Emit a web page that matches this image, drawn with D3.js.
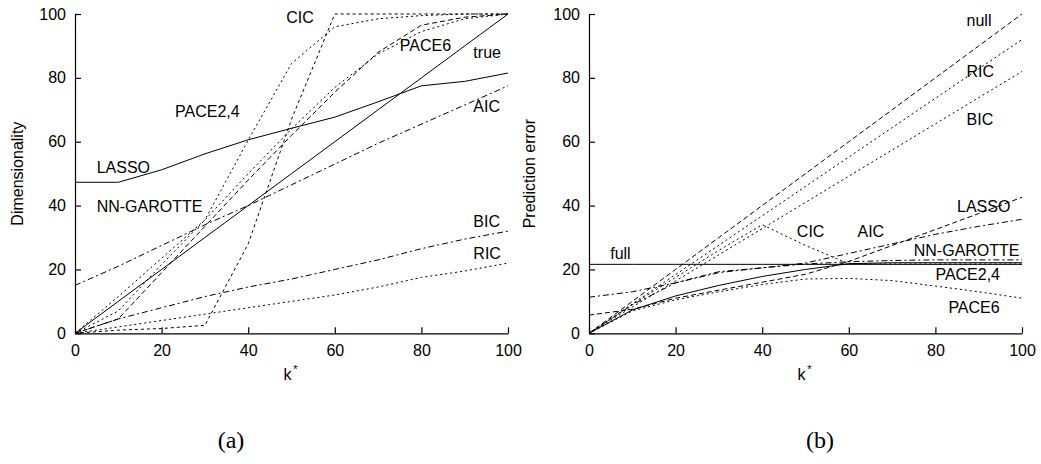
<!DOCTYPE html>
<html>
<head>
<meta charset="utf-8">
<script src="https://cdn.jsdelivr.net/npm/d3@7"></script>
<style>
  body { margin: 0; background: #fff; }
  svg { display: block; }
  .axis text { font-family: "Liberation Sans", Arial, sans-serif; font-size: 16px; fill: #000; }
  .axis path, .axis line { stroke: #000; stroke-width: 1.2; }
  .lbl { font-family: "Liberation Sans", Arial, sans-serif; font-size: 16px; fill: #000; }
  .cap { font-family: "Liberation Serif", "Times New Roman", serif; font-size: 24px; fill: #000; }
</style>
</head>
<body>
<svg id="chart" width="1041" height="464"></svg>
<script>
const kStar = [0, 10, 20, 30, 40, 50, 60, 70, 80, 90, 100];
const yTicks = [0, 20, 40, 60, 80, 100];
const xTicks = [0, 20, 40, 60, 80, 100];

// (a) dimensionality
const trueA = [0, 10, 20, 30, 40, 50, 60, 70, 80, 90, 100];
const lassoA = [47.3, 47.3, 51.2, 56.2, 60.6, 64.2, 67.7, 72.5, 77.5, 78.9, 81.5];
const nnGarotteA = [0, 11.5, 23.5, 35.5, 60.5, 84.5, 96, 98.5, 99.5, 100, 100];
const pace24A = [0, 4.5, 19, 33.5, 48, 62, 75.5, 88, 96.5, 99, 100];
const pace6A = [0, 7, 21.5, 35.5, 50, 64, 77, 87.5, 94.5, 98.5, 100];
const cicA = [0, 1, 1.5, 2.5, 28, 67, 100, 100, 100, 100, 100];
const aicA = [15, 21, 27.5, 34, 40, 46.5, 53, 59.5, 65.5, 71.5, 77.5];
const bicA = [0, 4.5, 8, 11.5, 14.5, 17, 20, 23, 26.5, 29.5, 32];
const ricA = [0, 2, 4, 6, 8, 10, 12, 14.5, 17.5, 19.5, 22];

// (b) prediction error
const fullB = [21.6, 21.6, 21.6, 21.6, 21.6, 21.6, 21.6, 21.6, 21.6, 21.6, 21.6];
const nullB = [0, 10, 20, 30, 40, 50, 60, 70, 80, 90, 100];
const ricB = [0, 9.2, 18.4, 27.6, 36.8, 46, 55.2, 64.4, 73.6, 82.8, 92];
const bicB = [0, 8.2, 16.4, 24.6, 32.8, 41, 49.2, 57.4, 65.6, 73.8, 82];
const cicB = [0, 9, 17.5, 26, 34, 27.5, 21.8, 21.7, 21.7, 21.7, 21.7];
const aicB = [11.3, 13, 15.8, 19, 20.5, 22, 25, 28, 31, 33.5, 35.7];
const lassoB = [5.7, 7.5, 11, 13.5, 16, 18.5, 22.5, 27.5, 32.5, 37.5, 42.6];
const nnGarotteB = [0, 8.9, 15.8, 19.3, 20.5, 21.7, 22.4, 22.8, 23, 23, 23];
const pace24B = [0, 7.3, 11.7, 15, 17.8, 20, 21.8, 22.1, 22.1, 22.1, 22.1];
const pace6B = [0, 7, 10.5, 13, 15.3, 17, 17.2, 16.5, 14.8, 13, 11];

const SOLID = null, DASH = "5,3", DOT = "2,3", DASHDOT = "6,3,2,3", SHORT = "3,3";

const panels = [
  {
    left: 75, right: 508, yTitle: "Dimensionality", yTitleX: 23, caption: "(a)", capX: 231,
    series: [
      { values: trueA, dash: SOLID },
      { values: lassoA, dash: SOLID },
      { values: nnGarotteA, dash: DOT },
      { values: pace24A, dash: DASH },
      { values: pace6A, dash: DOT },
      { values: cicA, dash: SHORT },
      { values: aicA, dash: DASHDOT },
      { values: bicA, dash: DASHDOT },
      { values: ricA, dash: DOT },
    ],
    // text, left x (data), baseline y (data)
    labels: [
      ["CIC", 48.8, 97.2], ["PACE6", 75, 88.3], ["true", 92, 86.3], ["AIC", 92, 69.4],
      ["PACE2,4", 23.1, 67.8], ["LASSO", 5, 50.3], ["NN-GAROTTE", 5, 38.1],
      ["BIC", 92, 33.4], ["RIC", 92, 23.2],
    ],
  },
  {
    left: 589, right: 1022, yTitle: "Prediction error", yTitleX: 535, caption: "(b)", capX: 820,
    series: [
      { values: fullB, dash: SOLID },
      { values: nullB, dash: DASH },
      { values: ricB, dash: DOT },
      { values: bicB, dash: DOT },
      { values: cicB, dash: DOT },
      { values: aicB, dash: DASHDOT },
      { values: lassoB, dash: DASH },
      { values: nnGarotteB, dash: DASHDOT },
      { values: pace24B, dash: SOLID },
      { values: pace6B, dash: DOT },
    ],
    labels: [
      ["null", 87.2, 96.3], ["RIC", 87.2, 80.4], ["BIC", 87.2, 65.2], ["LASSO", 85, 38.1],
      ["CIC", 48, 30.1], ["AIC", 62, 30.1], ["NN-GAROTTE", 75, 24.3],
      ["PACE2,4", 80, 16.7], ["PACE6", 83, 6.3], ["full", 4.9, 23.3],
    ],
  },
];

const svg = d3.select("#chart");
const plotTop = 14, plotBottom = 333.3;

panels.forEach((p) => {
  const x = d3.scaleLinear().domain([0, 100]).range([p.left, p.right]);
  const y = d3.scaleLinear().domain([0, 100]).range([plotBottom, plotTop]);
  const g = svg.append("g");

  const line = d3.line().x((d, i) => x(kStar[i])).y((d) => y(d));

  g.append("g")
    .selectAll("path")
    .data(p.series)
    .join("path")
    .attr("d", (d) => line(d.values))
    .attr("fill", "none")
    .attr("stroke", "#000")
    .attr("stroke-width", 1)
    .attr("stroke-dasharray", (d) => d.dash);

  g.append("g")
    .attr("class", "axis")
    .attr("transform", `translate(${p.left},0)`)
    .call(d3.axisLeft(y).tickValues(yTicks).tickSize(-6).tickSizeOuter(0).tickPadding(9));

  g.append("g")
    .attr("class", "axis")
    .attr("transform", `translate(0,${plotBottom})`)
    .call(d3.axisBottom(x).tickValues(xTicks).tickSize(-6).tickSizeOuter(0).tickPadding(11));

  g.selectAll(".lbl")
    .data(p.labels)
    .join("text")
    .attr("class", "lbl")
    .attr("x", (d) => x(d[1]))
    .attr("y", (d) => y(d[2]))
    .text((d) => d[0]);

  g.append("text")
    .attr("class", "lbl")
    .attr("transform", `translate(${p.yTitleX},${(plotTop + plotBottom) / 2}) rotate(-90)`)
    .attr("text-anchor", "middle")
    .text(p.yTitle);

  const kx = (p.left + p.right) / 2;
  g.append("text")
    .attr("class", "lbl")
    .attr("x", kx - 4)
    .attr("y", 380)
    .attr("text-anchor", "middle")
    .text("k");
  g.append("text")
    .attr("class", "lbl")
    .attr("x", kx + 4)
    .attr("y", 373)
    .attr("text-anchor", "middle")
    .style("font-size", "11px")
    .text("*");

  g.append("text")
    .attr("class", "cap")
    .attr("x", p.capX)
    .attr("y", 448)
    .attr("text-anchor", "middle")
    .text(p.caption);
});
</script>
</body>
</html>
